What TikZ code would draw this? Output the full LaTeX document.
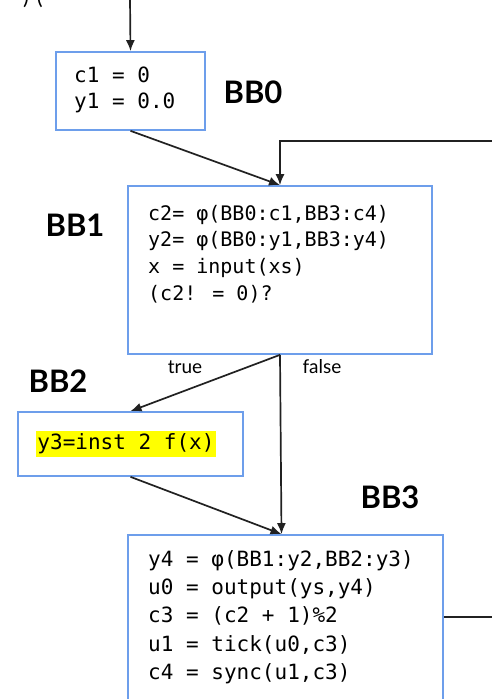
\documentclass[tikz,border=0pt]{standalone}
\usepackage{fontspec}
\setmainfont{Lato}
\newfontfamily\codefont{DejaVu Sans Mono}
\usetikzlibrary{arrows.meta}
\definecolor{blockblue}{HTML}{6D9EEB}
\definecolor{linegray}{HTML}{212121}
\definecolor{hilite}{HTML}{FFFF00}
\begin{document}
\begin{tikzpicture}[x=1pt,y=-1pt,
  block/.style={draw=blockblue, line width=1.7pt, rectangle, inner sep=0pt},
  code/.style={anchor=west, inner sep=0pt, align=left, font=\codefont\fontsize{21}{28.3}\selectfont},
  bblabel/.style={font=\bfseries\fontsize{31}{34}\selectfont},
  edgearrow/.style={draw=linegray, line width=1.7pt, -{Latex[length=11pt,width=9pt]}},
  branchlabel/.style={font=\fontsize{19}{22}\selectfont}]
\useasboundingbox (0,0) rectangle (491,699);
\fill[white] (0,0) rectangle (491,699);

% tail of a caption running off the top edge
\node[anchor=base, font=\fontsize{22}{24}\selectfont, inner sep=0pt] (toptext) at (33,4) {)\hspace{8pt}(};

% basic blocks
\node[block, minimum width=149, minimum height=78] (bb0) at (130.5,91) {};
\node[block, minimum width=304, minimum height=168] (bb1) at (280,270) {};
\node[block, minimum width=225, minimum height=64] (bb2) at (130.5,444) {};
\node[block, minimum width=315, minimum height=180] (bb3) at (285.5,625) {};

% block contents
\node[code, font=\codefont\fontsize{21}{26}\selectfont] (bb0code) at (74,90) {c1 = 0\\y1 = 0.0};
\node[code, font=\codefont\fontsize{20}{26.7}\selectfont] (bb1code) at (148,254)
  {c2= φ(BB0:c1,BB3:c4)\\y2= φ(BB0:y1,BB3:y4)\\x = input(xs)\\(c2! = 0)?};
\node[code, fill=hilite, inner xsep=1pt, minimum height=26, anchor=center] (bb2code) at (126,444) {y3=inst 2 f(x)};
\node[code] (bb3code) at (148,617)
  {y4 = φ(BB1:y2,BB2:y3)\\u0 = output(ys,y4)\\c3 = (c2 + 1)\%2\\u1 = tick(u0,c3)\\c4 = sync(u1,c3)};

% block labels
\node[bblabel] (lbb0) at (253,92) {BB0};
\node[bblabel] (lbb1) at (75,225) {BB1};
\node[bblabel] (lbb2) at (58,381) {BB2};
\node[bblabel] (lbb3) at (390,497) {BB3};

% branch labels
\node[branchlabel] (ltrue) at (185,367) {true};
\node[branchlabel] (lfalse) at (322,367) {false};

% control flow
\coordinate (entry) at (130,-2);
\coordinate (loopright) at (510,141);
\draw[edgearrow] (entry) -- (bb0.north);
\draw[edgearrow] (bb0.south) -- (bb1.north);
\draw[edgearrow] ([yshift=8pt]bb3.east) -| (loopright) -| (bb1.north);
\draw[edgearrow] (bb1.south) -- (bb2.north);
\draw[edgearrow] (bb1.south) -- ([xshift=-4pt]bb3.north);
\draw[edgearrow] (bb2.south) -- ([xshift=-4pt]bb3.north);
\end{tikzpicture}
\end{document}
